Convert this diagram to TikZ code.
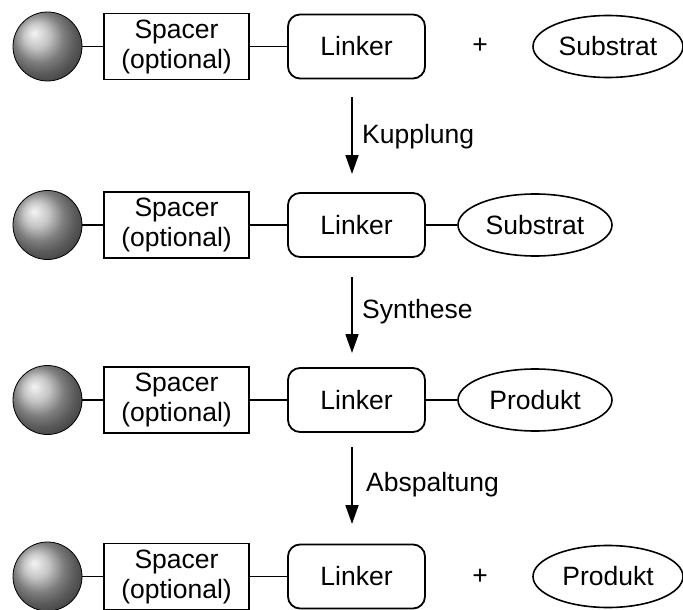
\documentclass[tikz,border=0pt]{standalone}
\usepackage{fontspec}
\setmainfont{Liberation Sans}
\usetikzlibrary{arrows.meta,shapes.geometric}
\begin{document}
\begin{tikzpicture}[x=1pt,y=-1pt,
  every node/.style={font=\fontsize{26.5}{30}\selectfont},
  conn/.style={line width=1.7pt},
  ball/.style={circle,minimum size=69pt,inner sep=0pt,shading=ball,ball color=black!30,draw=black,line width=0.8pt},
  spacerbox/.style={draw,line width=1.8pt,minimum width=145pt,minimum height=66pt,inner sep=0pt,align=center},
  linkerbox/.style={draw,line width=1.8pt,rounded corners=12pt,minimum width=137pt,minimum height=64pt,inner sep=0pt},
  oval/.style={draw,ellipse,line width=1.6pt,minimum width=150pt,minimum height=62pt,inner sep=0pt},
  rxn/.style={line width=1.8pt,-{Triangle[length=19pt,width=13pt]}},
  rxnlabel/.style={anchor=west,inner sep=0pt}]
\useasboundingbox (0,0) rectangle (683,610);
% row 1
\node[ball] (b1) at (47.5,46.5) {};
\node[spacerbox] (s1) at (176.5,46.5) {Spacer\\(optional)};
\node[linkerbox] (l1) at (356.5,46.5) {Linker};
\node (p1) at (480,46) {+};
\node[oval] (e1) at (608,46.5) {Substrat};
\draw[conn] (b1) -- (s1);
\draw[conn] (s1) -- (l1);
% arrow 1
\coordinate (a1s) at (352,97);
\coordinate (a1e) at (352,174);
\draw[rxn] (a1s) -- (a1e);
\node[rxnlabel] (t1) at (362,137) {Kupplung};
% row 2
\node[ball] (b2) at (47.5,225) {};
\node[spacerbox] (s2) at (176.5,225) {Spacer\\(optional)};
\node[linkerbox] (l2) at (356.5,225) {Linker};
\node[oval,minimum width=154pt] (e2) at (535,225) {Substrat};
\draw[conn] (b2) -- (s2);
\draw[conn] (s2) -- (l2);
\draw[conn] (l2) -- (e2);
% arrow 2
\coordinate (a2s) at (352,277);
\coordinate (a2e) at (352,353);
\draw[rxn] (a2s) -- (a2e);
\node[rxnlabel] (t2) at (362,312) {Synthese};
% row 3
\node[ball] (b3) at (47.5,400) {};
\node[spacerbox] (s3) at (176.5,400) {Spacer\\(optional)};
\node[linkerbox] (l3) at (356.5,400) {Linker};
\node[oval,minimum width=154pt] (e3) at (535,400) {Produkt};
\draw[conn] (b3) -- (s3);
\draw[conn] (s3) -- (l3);
\draw[conn] (l3) -- (e3);
% arrow 3
\coordinate (a3s) at (352,447);
\coordinate (a3e) at (352,524);
\draw[rxn] (a3s) -- (a3e);
\node[rxnlabel] (t3) at (366,485) {Abspaltung};
% row 4
\node[ball] (b4) at (47.5,576.5) {};
\node[spacerbox] (s4) at (176.5,576.5) {Spacer\\(optional)};
\node[linkerbox] (l4) at (356.5,576.5) {Linker};
\node (p4) at (480,577) {+};
\node[oval] (e4) at (608,576.5) {Produkt};
\draw[conn] (b4) -- (s4);
\draw[conn] (s4) -- (l4);
\end{tikzpicture}
\end{document}
